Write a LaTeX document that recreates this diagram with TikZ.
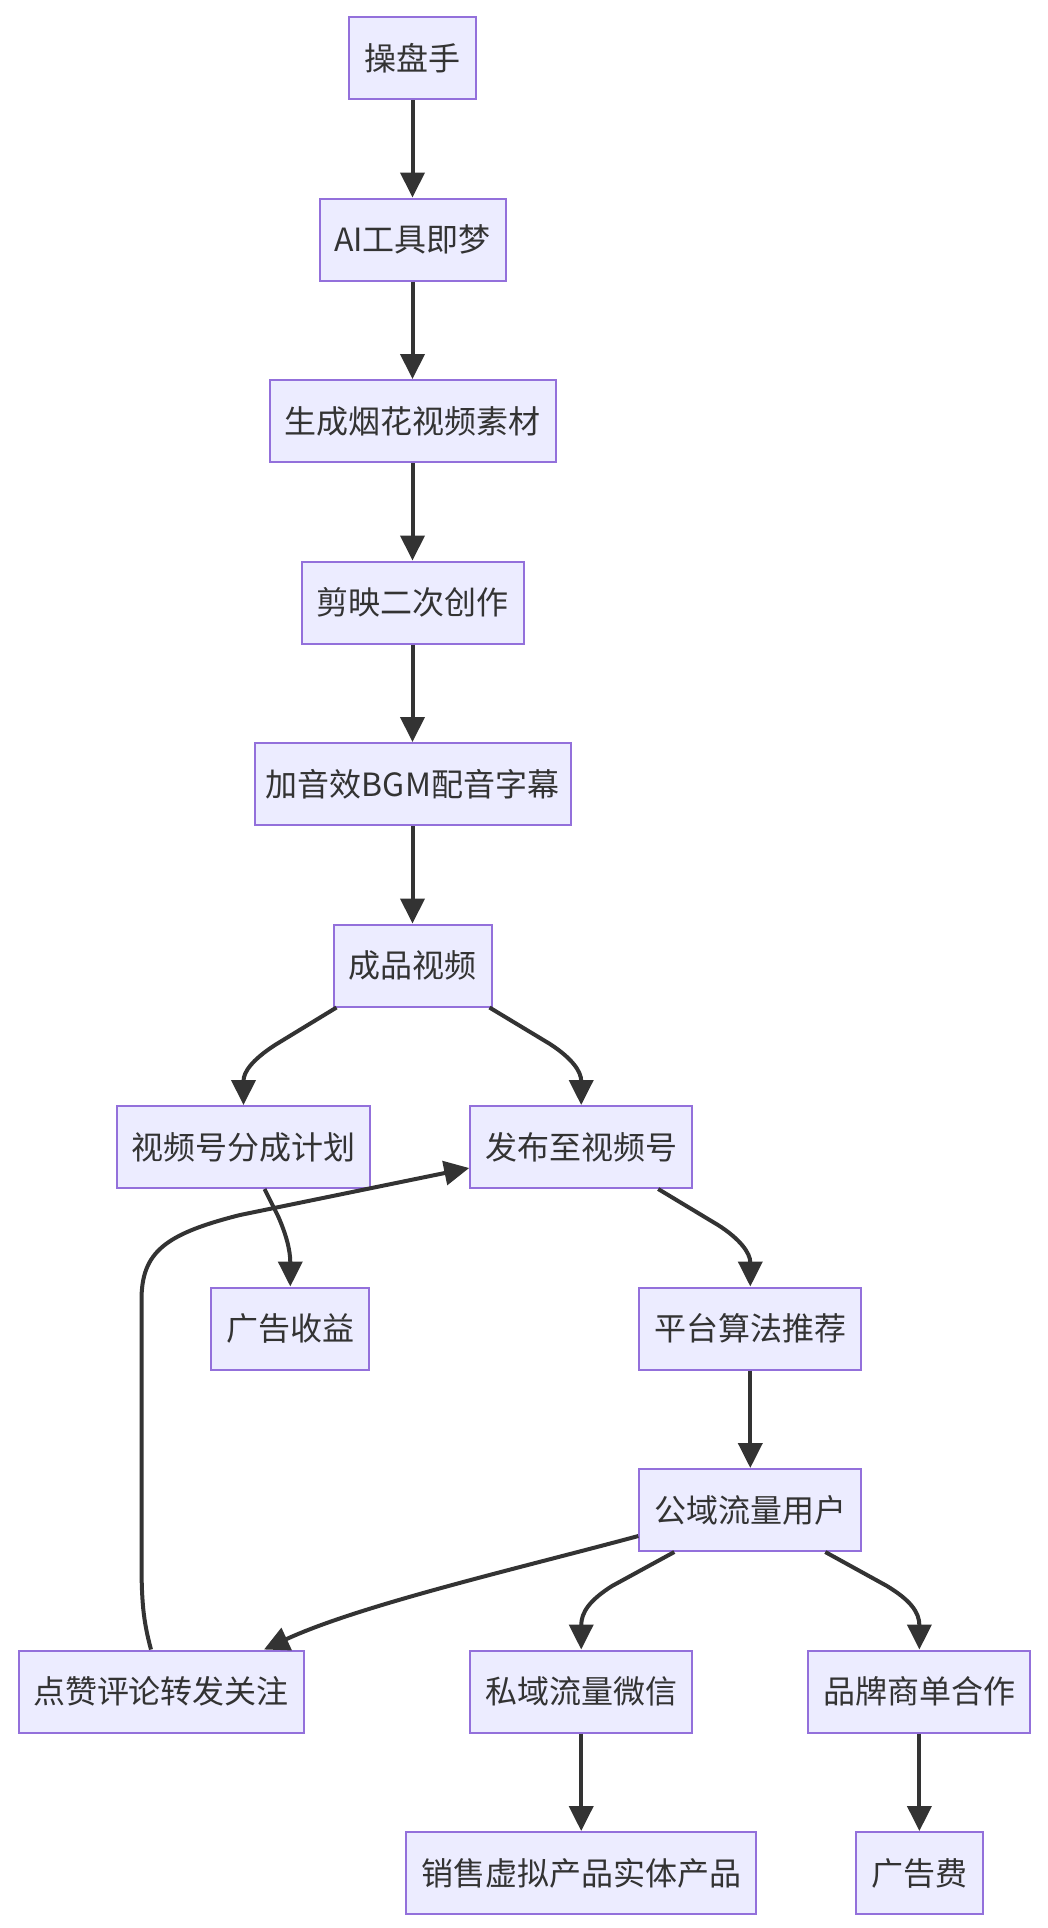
\documentclass[tikz,border=0pt]{standalone}
\usepackage{fontspec}
\newfontfamily\cjk{Noto Sans CJK SC}
\usetikzlibrary{arrows.meta,calc}
\definecolor{nodefill}{HTML}{ECECFF}
\definecolor{nodeline}{HTML}{9370DB}
\definecolor{edgecol}{HTML}{333333}
\begin{document}
\begin{tikzpicture}[x=1pt,y=-1pt,
  box/.style={draw=nodeline, fill=nodefill, line width=2pt, minimum height=82pt, inner sep=0pt, text=edgecol, font=\cjk\fontsize{32}{37}\selectfont},
  edge/.style={draw=edgecol, line width=4pt, -{Triangle[length=25pt,width=24pt]}}]
\useasboundingbox (0,0) rectangle (1048,1928);
\node[box,minimum width=127pt] (n1) at (412.5,58) {操盘手};
\node[box,minimum width=186pt] (n2) at (412.5,239.5) {AI工具即梦};
\node[box,minimum width=286pt] (n3) at (412.5,421) {生成烟花视频素材};
\node[box,minimum width=222pt] (n4) at (412.5,602.5) {剪映二次创作};
\node[box,minimum width=316pt] (n5) at (412.5,784) {加音效BGM配音字幕};
\node[box,minimum width=158pt] (n6) at (412.5,965.5) {成品视频};
\node[box,minimum width=253pt] (n7a) at (243.5,1147) {视频号分成计划};
\node[box,minimum width=222pt] (n7b) at (581.2,1147) {发布至视频号};
\node[box,minimum width=158pt] (n8a) at (290.3,1328.5) {广告收益};
\node[box,minimum width=222pt] (n8b) at (750.3,1328.5) {平台算法推荐};
\node[box,minimum width=222pt] (n9) at (750.3,1510) {公域流量用户};
\node[box,minimum width=285pt] (n10a) at (161,1691.5) {点赞评论转发关注};
\node[box,minimum width=222pt] (n10b) at (581.2,1691.5) {私域流量微信};
\node[box,minimum width=222pt] (n10c) at (919.4,1691.5) {品牌商单合作};
\node[box,minimum width=350pt] (n11a) at (581.2,1873) {销售虚拟产品实体产品};
\node[box,minimum width=127pt] (n11b) at (919.4,1873) {广告费};

\draw[edge] (n1.south) -- (n2.north);
\draw[edge] (n2.south) -- (n3.north);
\draw[edge] (n3.south) -- (n4.north);
\draw[edge] (n4.south) -- (n5.north);
\draw[edge] (n5.south) -- (n6.north);
\draw[edge] ($(n6.south)+(-76,0)$) -- (275,1045) .. controls (252,1060) and (243.5,1072) .. (n7a.north);
\draw[edge] ($(n6.south)+(77,0)$) -- (550,1044) .. controls (573,1059) and (581.2,1072) .. (n7b.north);
\draw[edge] ($(n7a.south)+(21,0)$) -- (278,1216) .. controls (286,1234) and (290.3,1250) .. (n8a.north);
\draw[edge] ($(n7b.south)+(77,0)$) -- (718,1225) .. controls (740,1239) and (750.3,1253) .. (n8b.north);
\draw[edge] (n8b.south) -- (n9.north);
\draw[edge] ($(n9.west)+(0,26)$) .. controls (520,1568) and (360,1605) .. ($(n10a.north)+(103,0)$);
\draw[edge] ($(n9.south)+(-76,0)$) -- (612,1586) .. controls (590,1600) and (581.2,1612) .. (n10b.north);
\draw[edge] ($(n9.south)+(75,0)$) -- (887,1586) .. controls (910,1600) and (919.4,1612) .. (n10c.north);
\draw[edge] ($(n10a.north)+(-10,0)$) .. controls (143,1620) and (141.5,1600) .. (141.5,1560) -- (141.5,1300) .. controls (141.5,1252) and (165,1234) .. (240,1215) -- ($(n7b.west)+(0,21)$);
\draw[edge] (n10b.south) -- (n11a.north);
\draw[edge] (n10c.south) -- (n11b.north);
\end{tikzpicture}
\end{document}
